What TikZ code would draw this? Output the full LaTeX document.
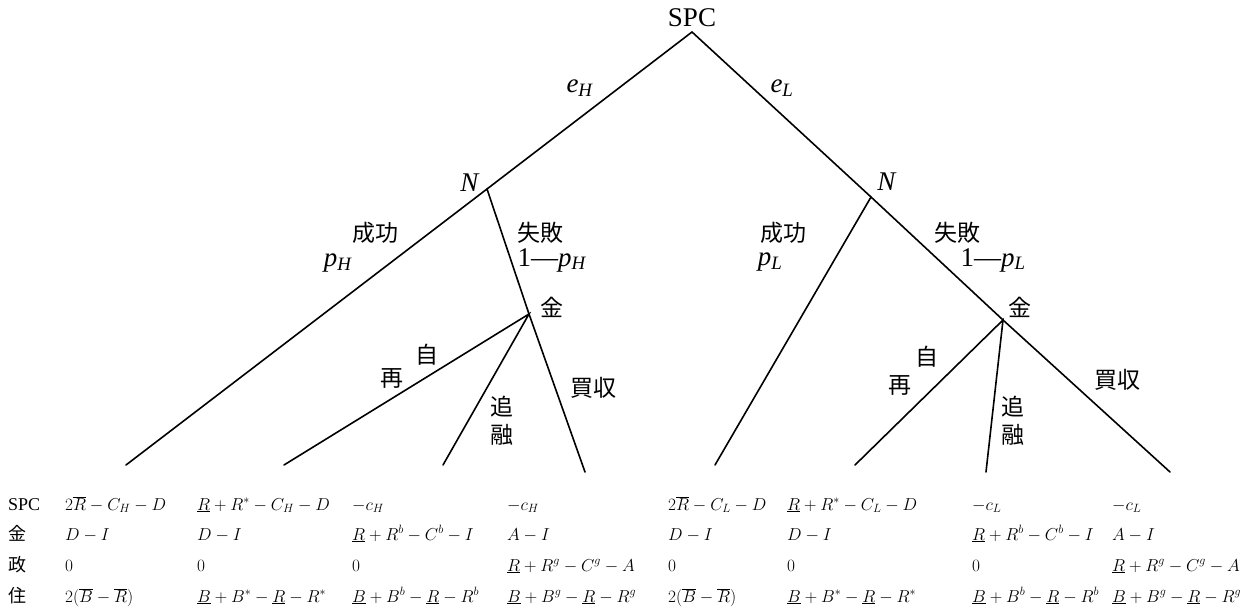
\documentclass[tikz,border=0pt]{standalone}
\usepackage{fontspec}
\setmainfont{Liberation Serif}
\newfontfamily\jpsans{Noto Sans CJK JP}
\usepackage{tikz}
\usetikzlibrary{positioning}
\tikzstyle{branch} = [line width=1.6pt, line cap=round, line join=miter]
\tikzstyle{lbl} = [font=\fontsize{27}{30}\selectfont, inner sep=0pt]
\tikzstyle{jplbl} = [font=\jpsans\fontsize{23}{28}\selectfont, inner sep=0pt, align=center]
\tikzstyle{cell} = [font=\fontsize{16.5}{20}\selectfont, anchor=base west, inner sep=0pt]
\tikzstyle{rowlbl} = [font=\fontsize{18}{20}\selectfont, anchor=base west, inner sep=0pt]
\newcommand{\sbsc}[2]{\textit{#1}\textsubscript{\textit{#2}}}

\begin{document}
\begin{tikzpicture}[x=1pt, y=-1pt]
\useasboundingbox (0,0) rectangle (1245,612);

% decision points
\coordinate (spc) at (692,32);
\coordinate (nL) at (487,189);
\coordinate (nR) at (871,197);
\coordinate (kinL) at (529,314);
\coordinate (kinR) at (1003,320);

% end points
\coordinate (endLs) at (126,465);
\coordinate (endLa) at (284,465);
\coordinate (endLb) at (443,465);
\coordinate (endLc) at (585,472);
\coordinate (endRs) at (715,465);
\coordinate (endRa) at (855,465);
\coordinate (endRb) at (986,472);
\coordinate (endRc) at (1170,472);

% branches
\draw[branch] (nL) -- (spc) -- (nR);
\draw[branch] (endLs) -- (nL) -- (kinL) -- (endLc);
\draw[branch] (endLa) -- (kinL) -- (endLb);
\draw[branch] (endRs) -- (nR) -- (kinR) -- (endRc);
\draw[branch] (endRa) -- (kinR) -- (endRb);

% labels
\node[lbl, above=5pt of spc] (spclbl) {SPC};
\node[lbl] (eh) at (580,88) {\sbsc{e}{H}};
\node[lbl] (el) at (782,88) {\sbsc{e}{L}};
\node[lbl] (natL) at (470,183) {\textit{N}};
\node[lbl] (natR) at (887,182) {\textit{N}};

\node[jplbl] (succL) at (375,233) {成功};
\node[lbl] (ph) at (338,263) {\sbsc{p}{H}};
\node[jplbl] (failL) at (540,233) {失敗};
\node[lbl] (qh) at (552,260) {1—\sbsc{p}{H}};
\node[jplbl] (bankL) at (552,307) {金};
\node[jplbl] (jiL) at (427,355) {自};
\node[jplbl] (saiL) at (392,378) {再};
\node[jplbl] (tsuiL) at (502,421) {追\\融};
\node[jplbl] (buyL) at (593,388) {買収};

\node[jplbl] (succR) at (783,233) {成功};
\node[lbl] (pl) at (770,262) {\sbsc{p}{L}};
\node[jplbl] (failR) at (957,233) {失敗};
\node[lbl] (ql) at (993,260) {1—\sbsc{p}{L}};
\node[jplbl] (bankR) at (1020,307) {金};
\node[jplbl] (jiR) at (927,357) {自};
\node[jplbl] (saiR) at (900,385) {再};
\node[jplbl] (tsuiR) at (1013,421) {追\\融};
\node[jplbl] (buyR) at (1117,380) {買収};

% payoff table
\node[rowlbl] (rowspc) at (8,510) {SPC};
\node[rowlbl, font=\jpsans\fontsize{18}{20}\selectfont] (rowkin) at (8,540) {金};
\node[rowlbl, font=\jpsans\fontsize{18}{20}\selectfont] (rowsei) at (8,571) {政};
\node[rowlbl, font=\jpsans\fontsize{18}{20}\selectfont] (rowju) at (8,602) {住};

\foreach \x/\txt [count=\i] in {
  65/{$2\overline{R}-C_H-D$}, 197/{$\underline{R}+R^{*}-C_H-D$},
  352/{$-c_H$}, 507/{$-c_H$},
  668/{$2\overline{R}-C_L-D$}, 787/{$\underline{R}+R^{*}-C_L-D$},
  972/{$-c_L$}, 1112/{$-c_L$}}
  \node[cell] (spc\i) at (\x,510) {\txt};

\foreach \x/\txt [count=\i] in {
  65/{$D-I$}, 197/{$D-I$},
  352/{$\underline{R}+R^{b}-C^{b}-I$}, 507/{$A-I$},
  668/{$D-I$}, 787/{$D-I$},
  972/{$\underline{R}+R^{b}-C^{b}-I$}, 1112/{$A-I$}}
  \node[cell] (kin\i) at (\x,540) {\txt};

\foreach \x/\txt [count=\i] in {
  65/{$0$}, 197/{$0$}, 352/{$0$}, 507/{$\underline{R}+R^{g}-C^{g}-A$},
  668/{$0$}, 787/{$0$}, 972/{$0$}, 1112/{$\underline{R}+R^{g}-C^{g}-A$}}
  \node[cell] (sei\i) at (\x,571) {\txt};

\foreach \x/\txt [count=\i] in {
  65/{$2(\overline{B}-\overline{R})$}, 197/{$\underline{B}+B^{*}-\underline{R}-R^{*}$},
  352/{$\underline{B}+B^{b}-\underline{R}-R^{b}$}, 507/{$\underline{B}+B^{g}-\underline{R}-R^{g}$},
  668/{$2(\overline{B}-\overline{R})$}, 787/{$\underline{B}+B^{*}-\underline{R}-R^{*}$},
  972/{$\underline{B}+B^{b}-\underline{R}-R^{b}$}, 1112/{$\underline{B}+B^{g}-\underline{R}-R^{g}$}}
  \node[cell] (ju\i) at (\x,602) {\txt};

\end{tikzpicture}
\end{document}
